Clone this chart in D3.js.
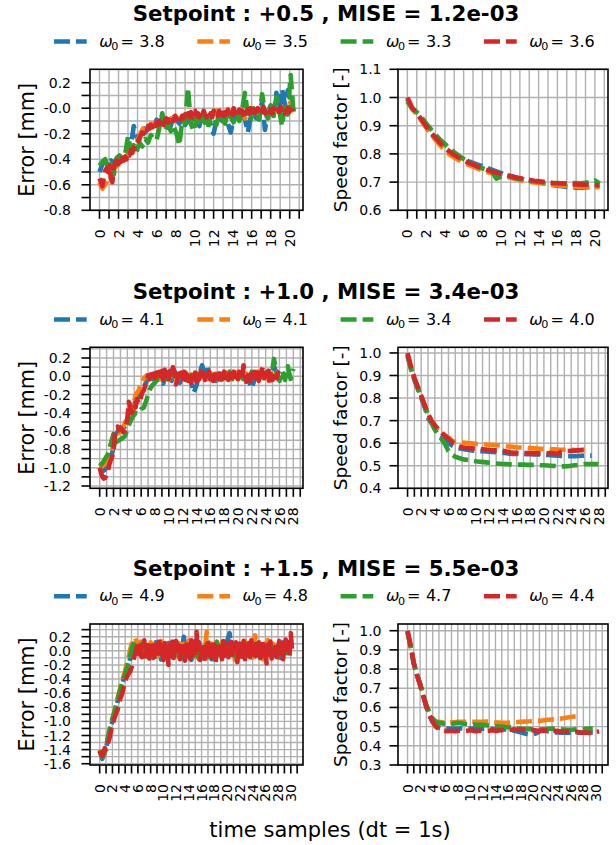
<!DOCTYPE html>
<html><head><meta charset="utf-8">
<script src="https://cdn.jsdelivr.net/npm/d3@7"></script>
<style>body{margin:0;background:#fff} text{font-family:"DejaVu Sans",sans-serif;fill:#000}</style>
</head><body><svg id="c" width="616" height="845"></svg>
<script>
const colors = ["#1f77b4","#ff7f0e","#2ca02c","#d62728"];
const titles = ["Setpoint : +0.5 , MISE = 1.2e-03","Setpoint : +1.0 , MISE = 3.4e-03","Setpoint : +1.5 , MISE = 5.5e-03"];
const omega1 = ["3.8","3.5","3.3","3.6"];
const omega2 = ["4.1","4.1","3.4","4.0"];
const omega3 = ["4.9","4.8","4.7","4.4"];
// sampling step of each error series (blue, orange, green, red)
const errDt1 = [0.3, 0.3, 0.3, 0.15];
const errDt2 = [0.4, 0.4, 0.4, 0.2];
const errDt3 = [0.4, 0.4, 0.4, 0.2];
const spdDt = 0.5;
const xLabel = "time samples (dt = 1s)";
const errLabel = "Error [mm]";
const spdLabel = "Speed factor [-]";

// ---- Setpoint +0.5 ----
const err1Blue = [-0.50,-0.44,-0.42,-0.45,-0.41,-0.43,-0.40,-0.42,-0.44,-0.40,-0.36,-0.30,-0.14,-0.22,-0.25,-0.14,-0.19,-0.16,-0.13,-0.15,-0.09,-0.11,-0.08,-0.12,-0.10,-0.14,-0.04,-0.09,-0.12,-0.08,-0.13,-0.10,-0.07,-0.12,-0.09,-0.14,-0.06,-0.11,-0.08,-0.13,-0.20,-0.09,-0.05,-0.10,-0.06,-0.12,-0.19,-0.08,-0.03,-0.10,-0.05,-0.09,-0.19,-0.07,-0.02,-0.08,-0.04,0.05,-0.17,-0.03,0.02,-0.06,0.12,-0.02,0.15,0.03,0.14,0.06,-0.02];
const err1Orange = [-0.58,-0.63,-0.60,-0.55,-0.52,-0.48,-0.45,-0.43,-0.40,-0.38,-0.36,-0.33,-0.30,-0.26,-0.22,-0.17,-0.14,-0.15,-0.12,-0.13,-0.11,-0.10,-0.12,-0.09,-0.10,-0.08,-0.09,-0.07,-0.10,-0.06,-0.08,-0.05,-0.07,-0.04,-0.06,-0.05,-0.08,-0.03,-0.05,-0.06,-0.04,-0.02,-0.05,-0.03,-0.06,-0.02,-0.04,-0.03,-0.01,-0.05,-0.02,-0.08,-0.03,-0.01,-0.04,-0.02,-0.05,0.00,-0.03,-0.02,-0.04,0.01,-0.02,-0.03,0.00,-0.02,0.01,0.05,-0.03];
const err1Green = [-0.45,-0.42,-0.40,-0.47,-0.44,-0.52,-0.39,-0.37,-0.40,-0.36,-0.22,-0.33,-0.29,-0.34,-0.27,-0.30,-0.24,-0.27,-0.21,-0.24,-0.25,-0.15,-0.04,-0.17,-0.12,-0.18,-0.14,-0.20,-0.29,-0.09,-0.12,0.16,-0.12,-0.18,-0.08,-0.14,-0.06,-0.11,-0.16,-0.04,-0.09,-0.13,-0.03,-0.08,-0.12,-0.02,-0.07,-0.11,-0.04,-0.10,-0.01,0.12,-0.06,-0.10,0.00,-0.05,-0.09,0.11,-0.03,-0.08,0.02,-0.06,0.09,-0.02,-0.14,0.03,-0.05,0.26,-0.03];
const err1Red = [-0.55,-0.58,-0.61,-0.54,-0.49,-0.47,-0.50,-0.45,-0.55,-0.58,-0.47,-0.43,-0.41,-0.44,-0.40,-0.42,-0.39,-0.41,-0.38,-0.40,-0.36,-0.37,-0.33,-0.35,-0.31,-0.32,-0.28,-0.26,-0.23,-0.21,-0.19,-0.20,-0.16,-0.18,-0.14,-0.16,-0.13,-0.15,-0.12,-0.14,-0.11,-0.13,-0.10,-0.12,-0.09,-0.13,-0.10,-0.08,-0.11,-0.09,-0.10,-0.07,-0.10,-0.06,-0.09,-0.07,-0.05,-0.09,-0.06,-0.08,-0.05,-0.08,-0.04,-0.07,-0.03,-0.07,-0.05,-0.02,-0.06,-0.04,-0.07,-0.03,-0.06,-0.02,-0.05,-0.07,-0.03,-0.06,-0.04,-0.07,-0.02,-0.05,-0.03,-0.06,-0.02,-0.05,-0.01,-0.06,-0.03,-0.05,-0.01,-0.04,-0.02,-0.05,0.00,-0.04,-0.02,-0.05,-0.01,-0.03,-0.02,-0.05,0.00,-0.03,-0.01,-0.04,0.00,-0.03,-0.05,-0.01,-0.03,0.00,-0.04,-0.01,-0.03,0.01,-0.04,-0.02,0.00,-0.03,-0.01,-0.04,0.00,-0.02,-0.04,-0.01,-0.03,0.01,-0.03,-0.01,-0.04,-0.02,0.00,-0.03,-0.01,0.02,-0.02];
const spd1Blue = [0.995,0.962,0.943,0.920,0.895,0.873,0.852,0.835,0.820,0.808,0.798,0.789,0.781,0.774,0.768,0.762,0.756,0.750,0.744,0.738,0.732,0.727,0.722,0.717,0.713,0.709,0.705,0.702,0.699,0.696,0.693,0.690,0.687,0.685,0.683,0.681,0.680,0.680,0.681,0.683,0.686,0.688];
const spd1Orange = [0.990,0.960,0.940,0.918,0.894,0.872,0.850,0.830,0.812,0.798,0.787,0.778,0.770,0.762,0.755,0.748,0.741,0.736,0.731,0.727,0.723,0.719,0.715,0.711,0.707,0.704,0.701,0.699,0.697,0.695,0.693,0.691,0.689,0.687,0.686,0.685,0.684,0.683,0.683,0.682,0.682,0.682];
const spd1Green = [0.985,0.962,0.948,0.930,0.908,0.888,0.868,0.850,0.835,0.820,0.806,0.793,0.782,0.772,0.764,0.756,0.749,0.744,0.738,0.712,0.720,0.724,0.719,0.714,0.711,0.708,0.705,0.703,0.701,0.699,0.698,0.697,0.697,0.696,0.696,0.697,0.697,0.696,0.698,0.700,0.706,0.695];
const spd1Red = [1.000,0.965,0.945,0.922,0.898,0.877,0.857,0.838,0.822,0.808,0.796,0.786,0.777,0.769,0.762,0.755,0.748,0.743,0.738,0.733,0.729,0.725,0.721,0.717,0.714,0.711,0.708,0.705,0.703,0.701,0.699,0.697,0.696,0.695,0.694,0.693,0.692,0.691,0.691,0.690,0.689,0.689];

// ---- Setpoint +1.0 ----
const err2Blue = [-1.00,-1.04,-1.02,-0.96,-0.90,-0.78,-0.63,-0.58,-0.60,-0.55,-0.48,-0.33,-0.36,-0.27,-0.22,-0.18,-0.12,-0.05,0.00,-0.03,0.02,-0.04,0.03,-0.08,0.05,0.02,-0.05,0.06,-0.02,-0.07,0.03,-0.04,0.01,-0.06,-0.18,-0.10,0.02,0.12,0.03,0.10,-0.02,0.04,-0.05,0.02,-0.03,0.04,-0.02,0.03,-0.04,0.02,-0.03,0.04,-0.02,0.02,-0.06,-0.13,-0.03,0.03,-0.02,0.04,-0.01,0.05,0.02,0.11,0.03,0.06,0.01,0.04];
const err2Orange = [-1.00,-0.98,-0.96,-0.92,-0.86,-0.74,-0.60,-0.62,-0.57,-0.52,-0.45,-0.30,-0.34,-0.20,-0.16,-0.07,-0.02,0.01,-0.03,0.02,-0.01,0.04,-0.03,0.05,0.01,-0.04,0.06,0.00,-0.05,0.03,-0.02,0.04,-0.03,0.02,-0.05,0.03,-0.01,0.05,0.00,-0.03,0.04,-0.02,0.03,-0.04,0.02,-0.01,0.04,-0.03,0.03,-0.02,0.05,0.00,-0.04,0.03,-0.01,0.04,-0.03,0.05,0.01,-0.02,0.06,-0.04,0.03,-0.01,0.04,0.02];
const err2Green = [-0.98,-0.95,-0.90,-0.85,-0.74,-0.63,-0.72,-0.70,-0.68,-0.66,-0.58,-0.50,-0.44,-0.40,-0.41,-0.36,-0.34,-0.25,-0.15,-0.10,-0.07,-0.02,-0.05,0.02,-0.03,0.01,-0.04,0.03,-0.02,0.02,-0.03,0.04,-0.02,0.01,-0.04,0.03,-0.01,0.05,-0.02,0.02,-0.03,0.04,-0.01,0.03,-0.04,0.02,-0.02,0.05,-0.03,0.01,-0.02,0.04,-0.03,0.02,-0.01,0.05,-0.04,0.03,0.00,0.04,-0.02,0.06,-0.03,0.19,0.02,-0.05,0.06,-0.04,0.11,-0.03,0.08];
const err2Red = [-1.00,-1.06,-1.10,-1.12,-1.11,-1.08,-1.04,-0.96,-0.92,-0.88,-0.84,-0.62,-0.58,-0.55,-0.59,-0.56,-0.58,-0.61,-0.60,-0.54,-0.47,-0.28,-0.33,-0.40,-0.38,-0.30,-0.34,-0.25,-0.29,-0.30,-0.22,-0.17,-0.15,-0.10,-0.06,0.01,-0.03,0.02,-0.04,0.03,-0.02,0.04,-0.03,0.05,0.00,0.06,-0.04,0.07,0.01,0.05,-0.03,0.06,0.02,0.10,0.04,-0.09,-0.05,0.03,-0.02,0.04,-0.03,0.05,-0.04,0.02,-0.05,0.03,-0.07,0.01,-0.04,0.04,-0.06,0.02,-0.03,0.05,-0.02,0.04,-0.04,0.03,-0.01,0.05,-0.03,0.04,-0.05,0.02,-0.02,0.05,-0.03,0.03,-0.06,0.02,0.05,-0.02,0.04,-0.04,0.03,-0.05,0.02,0.05,-0.01,0.04,-0.03,0.05,0.02,-0.04,0.12,0.03,-0.06,-0.02,0.04,-0.05,0.03,-0.04,0.05,-0.02,0.04,-0.05,0.03,0.06,0.10,-0.02,0.04,-0.03,0.06,-0.08,0.02,-0.04,0.05,0.01,-0.02,0.04,0.03];
const spd2Blue = [0.990,0.930,0.880,0.840,0.800,0.760,0.712,0.690,0.670,0.650,0.632,0.615,0.600,0.590,0.582,0.578,0.575,0.572,0.570,0.568,0.566,0.565,0.564,0.563,0.562,0.561,0.560,0.559,0.558,0.555,0.553,0.552,0.552,0.552,0.552,0.551,0.551,0.550,0.550,0.550,0.550,0.548,0.547,0.546,0.545,0.543,0.542,0.542,0.542,0.542,0.543,0.544,0.545,0.545,0.545];
const spd2Orange = [0.995,0.935,0.888,0.848,0.808,0.768,0.728,0.700,0.680,0.662,0.648,0.636,0.625,0.612,0.605,0.604,0.603,0.602,0.600,0.599,0.597,0.596,0.595,0.594,0.593,0.593,0.592,0.590,0.588,0.586,0.585,0.584,0.582,0.581,0.580,0.579,0.578,0.577,0.576,0.575,0.574,0.574,0.573,0.573,0.572,0.571,0.571,0.571,0.571,0.570,0.570,0.571,0.572];
const spd2Green = [0.985,0.930,0.885,0.845,0.808,0.768,0.728,0.690,0.660,0.635,0.618,0.595,0.565,0.550,0.540,0.535,0.530,0.527,0.525,0.522,0.520,0.518,0.517,0.515,0.513,0.511,0.510,0.509,0.508,0.507,0.506,0.505,0.505,0.505,0.505,0.504,0.504,0.503,0.503,0.502,0.502,0.501,0.500,0.499,0.498,0.497,0.497,0.498,0.500,0.502,0.503,0.505,0.507,0.507,0.507,0.508,0.507];
const spd2Red = [1.000,0.940,0.890,0.850,0.810,0.770,0.730,0.700,0.680,0.660,0.645,0.632,0.620,0.606,0.595,0.587,0.582,0.580,0.578,0.577,0.575,0.574,0.573,0.572,0.570,0.569,0.568,0.567,0.566,0.563,0.560,0.558,0.557,0.556,0.556,0.556,0.556,0.555,0.555,0.555,0.555,0.555,0.556,0.555,0.552,0.562,0.565,0.565,0.566,0.567,0.568,0.569,0.570];

// ---- Setpoint +1.5 ----
const err3Blue = [-1.42,-1.53,-1.45,-1.30,-1.15,-1.00,-0.86,-0.72,-0.58,-0.45,-0.34,-0.24,-0.10,0.05,0.12,0.02,0.10,-0.08,0.14,-0.05,0.09,-0.10,0.12,0.00,-0.12,0.08,-0.04,0.11,-0.09,0.05,-0.06,0.10,-0.11,0.20,-0.03,0.07,-0.13,0.09,-0.02,0.12,-0.10,0.04,-0.07,0.11,-0.12,0.06,-0.03,0.10,-0.08,0.05,0.14,0.25,-0.06,0.09,-0.13,0.07,-0.04,0.12,-0.10,0.03,0.10,-0.08,0.13,-0.05,0.06,-0.12,0.09,-0.02,0.11,-0.07,0.04,-0.10,0.12,-0.03,0.08];
const err3Orange = [-1.40,-1.50,-1.43,-1.28,-1.12,-0.97,-0.83,-0.68,-0.54,-0.40,-0.28,-0.14,0.02,0.16,0.18,0.06,0.13,-0.06,0.11,-0.09,0.12,-0.04,0.09,-0.11,0.14,-0.02,0.08,-0.10,0.13,0.01,-0.08,0.11,-0.04,0.10,-0.12,0.15,-0.03,0.08,-0.09,0.12,0.03,-0.07,0.27,-0.05,0.10,-0.11,0.08,-0.02,0.12,-0.09,0.06,-0.04,0.11,-0.13,0.09,0.02,-0.08,0.14,-0.03,0.07,-0.10,0.22,-0.04,0.09,-0.12,0.06,0.15,-0.05,0.10,-0.08];
const err3Green = [-1.41,-1.50,-1.42,-1.27,-1.10,-0.96,-0.84,-0.70,-0.56,-0.43,-0.32,-0.20,-0.06,0.08,0.14,-0.02,0.09,-0.07,0.12,-0.04,0.07,-0.09,0.11,-0.03,0.06,-0.11,0.10,-0.05,0.08,-0.02,0.12,-0.08,0.05,-0.10,0.09,-0.04,0.11,-0.07,0.03,-0.12,0.08,-0.03,0.10,-0.09,0.06,-0.01,0.13,-0.06,0.04,-0.10,0.09,-0.02,0.12,-0.08,0.05,-0.11,0.10,-0.03,0.07,-0.09,0.11,-0.04,0.08,-0.10,0.06,0.13,-0.05,0.09,-0.07,0.04,-0.09,0.10,-0.03,0.12,-0.06];
const err3Red = [-1.42,-1.46,-1.49,-1.44,-1.38,-1.40,-1.33,-1.28,-1.22,-1.12,-1.05,-0.99,-0.93,-0.88,-0.84,-0.76,-0.68,-0.64,-0.58,-0.50,-0.43,-0.38,-0.35,-0.32,-0.29,-0.24,-0.17,-0.09,-0.04,0.05,0.10,-0.05,0.14,-0.09,0.06,0.15,-0.08,0.02,0.12,-0.11,0.07,-0.03,0.13,-0.12,0.04,0.10,-0.07,0.16,-0.02,0.08,-0.13,0.11,-0.04,0.05,-0.20,0.09,-0.06,0.13,-0.10,0.03,0.14,-0.07,0.08,-0.12,0.11,-0.03,0.06,-0.14,0.12,-0.05,0.09,-0.11,0.15,-0.06,0.04,-0.09,0.27,-0.02,0.10,-0.13,0.07,-0.08,0.12,-0.15,0.05,0.11,-0.06,0.13,-0.10,0.02,0.09,-0.17,0.06,0.12,-0.04,0.10,-0.12,0.14,-0.07,0.03,0.11,-0.09,0.05,0.13,-0.11,0.08,-0.03,0.12,-0.16,0.06,0.10,-0.08,0.04,0.14,-0.12,0.07,-0.05,0.11,-0.09,0.15,-0.06,0.08,-0.13,0.10,-0.02,0.12,-0.10,0.06,0.14,-0.08,0.03,-0.18,0.09,-0.04,0.13,-0.11,0.07,-0.06,0.12,-0.09,0.05,0.14,-0.07,0.10,-0.12,0.08,0.16,-0.05,0.11,-0.08,0.25,0.02,0.09];
const spd3Blue = [0.995,0.918,0.828,0.768,0.716,0.658,0.600,0.555,0.525,0.505,0.495,0.492,0.490,0.490,0.490,0.490,0.490,0.491,0.490,0.490,0.490,0.490,0.490,0.489,0.490,0.489,0.488,0.488,0.488,0.487,0.486,0.485,0.485,0.482,0.478,0.474,0.470,0.466,0.462,0.460,0.460,0.465,0.475,0.478,0.478,0.475,0.472,0.470,0.470,0.469,0.468,0.468,0.468,0.468,0.468,0.468,0.468,0.469,0.469,0.470];
const spd3Orange = [0.995,0.918,0.830,0.771,0.720,0.664,0.608,0.566,0.535,0.527,0.525,0.523,0.522,0.522,0.522,0.523,0.525,0.525,0.525,0.525,0.525,0.525,0.525,0.525,0.525,0.526,0.527,0.525,0.522,0.521,0.520,0.520,0.520,0.521,0.522,0.524,0.525,0.526,0.527,0.528,0.530,0.530,0.530,0.532,0.535,0.536,0.537,0.538,0.540,0.542,0.545,0.548,0.550,0.553,0.555,0.560];
const spd3Green = [0.990,0.915,0.828,0.772,0.725,0.668,0.612,0.572,0.542,0.526,0.520,0.517,0.515,0.514,0.515,0.517,0.520,0.518,0.515,0.514,0.513,0.512,0.510,0.510,0.510,0.507,0.505,0.503,0.502,0.501,0.500,0.498,0.497,0.496,0.495,0.492,0.490,0.489,0.488,0.487,0.486,0.485,0.485,0.486,0.487,0.489,0.490,0.489,0.488,0.486,0.485,0.484,0.484,0.485,0.486,0.487,0.488,0.489,0.490,0.490];
const spd3Red = [1.000,0.920,0.830,0.770,0.718,0.660,0.605,0.560,0.525,0.500,0.487,0.480,0.478,0.476,0.479,0.476,0.478,0.480,0.477,0.479,0.481,0.478,0.476,0.480,0.478,0.477,0.479,0.481,0.478,0.480,0.482,0.480,0.483,0.484,0.486,0.484,0.485,0.483,0.482,0.481,0.482,0.480,0.478,0.481,0.480,0.478,0.476,0.478,0.477,0.475,0.474,0.476,0.474,0.472,0.473,0.470,0.468,0.470,0.467,0.468,0.472,0.475];

// axis ranges & ticks
const xDomains = [[-1.0,21.4],[-1.4,29.4],[-1.52,31.92]];
const xTickMax = [21, 29, 31];
const errDomains = [[-0.8,0.305],[-1.225,0.317],[-1.618,0.38]];
const errTicks1 = [0.2,0.1,0.0,-0.1,-0.2,-0.3,-0.4,-0.5,-0.6,-0.7,-0.8];
const errTickLabels1 = ["0.2","","-0.0","","-0.2","","-0.4","","-0.6","","-0.8"];
const errTicks2 = [0.3,0.2,0.1,0.0,-0.1,-0.2,-0.3,-0.4,-0.5,-0.6,-0.7,-0.8,-0.9,-1.0,-1.1,-1.2];
const errTickLabels2 = ["","0.2","","0.0","","-0.2","","-0.4","","-0.6","","-0.8","","-1.0","","-1.2"];
const errTicks3 = [0.3,0.2,0.1,0.0,-0.1,-0.2,-0.3,-0.4,-0.5,-0.6,-0.7,-0.8,-0.9,-1.0,-1.1,-1.2,-1.3,-1.4,-1.5,-1.6];
const errTickLabels3 = ["","0.2","","0.0","","-0.2","","-0.4","","-0.6","","-0.8","","-1.0","","-1.2","","-1.4","","-1.6"];
const spdDomains = [[0.6,1.1],[0.4,1.025],[0.3,1.035]];
const spdTicks1 = [0.6,0.7,0.8,0.9,1.0,1.1];
const spdTickLabels1 = ["0.6","0.7","0.8","0.9","1.0","1.1"];
const spdTicks2 = [0.4,0.5,0.6,0.7,0.8,0.9,1.0];
const spdTickLabels2 = ["0.4","0.5","0.6","0.7","0.8","0.9","1.0"];
const spdTicks3 = [0.3,0.4,0.5,0.6,0.7,0.8,0.9,1.0];
const spdTickLabels3 = ["0.3","0.4","0.5","0.6","0.7","0.8","0.9","1.0"];

const rows = [
  {title:titles[0], om:omega1, dt:errDt1, err:[err1Blue,err1Orange,err1Green,err1Red], spd:[spd1Blue,spd1Orange,spd1Green,spd1Red],
   xd:xDomains[0], xm:xTickMax[0], ed:errDomains[0], et:errTicks1, el:errTickLabels1, sd:spdDomains[0], st:spdTicks1, sl:spdTickLabels1},
  {title:titles[1], om:omega2, dt:errDt2, err:[err2Blue,err2Orange,err2Green,err2Red], spd:[spd2Blue,spd2Orange,spd2Green,spd2Red],
   xd:xDomains[1], xm:xTickMax[1], ed:errDomains[1], et:errTicks2, el:errTickLabels2, sd:spdDomains[1], st:spdTicks2, sl:spdTickLabels2},
  {title:titles[2], om:omega3, dt:errDt3, err:[err3Blue,err3Orange,err3Green,err3Red], spd:[spd3Blue,spd3Orange,spd3Green,spd3Red],
   xd:xDomains[2], xm:xTickMax[2], ed:errDomains[2], et:errTicks3, el:errTickLabels3, sd:spdDomains[2], st:spdTicks3, sl:spdTickLabels3}
];

// layout
const svg = d3.select("#c");
const rowTop = [69.3, 347.3, 624];
const panelH = 141;
const colX = [[90,303],[398,608]];
const tickFont = 14;
const lw = 4.6;
const dash = "16,6";
let clipId = 0;

function panel(g, x0, x1, y0, y1, xd, xm, yd, yt, yl, series, dts, labelPad, ylab, ylabFont, ylabX) {
  const x = d3.scaleLinear().domain(xd).range([x0, x1]);
  const y = d3.scaleLinear().domain(yd).range([y1, y0]);
  const xt = d3.range(0, xm + 1);
  // grid
  g.append("g").selectAll("line").data(xt).join("line")
    .attr("x1", d => x(d)).attr("x2", d => x(d)).attr("y1", y0).attr("y2", y1)
    .attr("stroke", "#b0b0b0").attr("stroke-width", 1.4);
  g.append("g").selectAll("line").data(yt).join("line")
    .attr("x1", x0).attr("x2", x1).attr("y1", d => y(d)).attr("y2", d => y(d))
    .attr("stroke", "#b0b0b0").attr("stroke-width", 1.4);
  // clip
  const id = "clip" + (clipId++);
  g.append("clipPath").attr("id", id).append("rect").attr("x", x0).attr("y", y0).attr("width", x1 - x0).attr("height", y1 - y0);
  const lg = g.append("g").attr("clip-path", `url(#${id})`);
  series.forEach((s, k) => {
    const dt = Array.isArray(dts) ? dts[k] : dts;
    const line = d3.line().x((d, i) => x(i * dt)).y(d => y(d));
    lg.append("path").attr("d", line(s)).attr("fill", "none").attr("stroke", colors[k])
      .attr("stroke-width", lw).attr("stroke-dasharray", dash).attr("stroke-linejoin", "round").attr("stroke-linecap", "butt");
  });
  // ticks
  g.append("g").selectAll("line").data(xt).join("line")
    .attr("x1", d => x(d)).attr("x2", d => x(d)).attr("y1", y1).attr("y2", y1 + 8.5)
    .attr("stroke", "#000").attr("stroke-width", 1.6);
  g.append("g").selectAll("line").data(yt).join("line")
    .attr("x1", x0 - 8.5).attr("x2", x0).attr("y1", d => y(d)).attr("y2", d => y(d))
    .attr("stroke", "#000").attr("stroke-width", 1.6);
  // tick labels
  g.append("g").selectAll("text").data(xt.filter(d => d % 2 === 0)).join("text")
    .attr("transform", d => `translate(${x(d)},${y1 + 19}) rotate(-90)`)
    .attr("text-anchor", "end").attr("dy", "0.36em").attr("font-size", tickFont).text(d => String(d));
  g.append("g").selectAll("text").data(yt.map((v, i) => [v, yl[i]]).filter(d => d[1] !== "")).join("text")
    .attr("x", x0 - labelPad).attr("y", d => y(d[0])).attr("dy", "0.36em")
    .attr("text-anchor", "end").attr("font-size", tickFont).text(d => d[1]);
  // spines
  g.append("rect").attr("x", x0).attr("y", y0).attr("width", x1 - x0).attr("height", y1 - y0)
    .attr("fill", "none").attr("stroke", "#000").attr("stroke-width", 1.6);
  // y label
  g.append("text").attr("transform", `translate(${ylabX},${(y0 + y1) / 2}) rotate(-90)`)
    .attr("text-anchor", "middle").attr("font-size", ylabFont).text(ylab);
}

rows.forEach((r, ri) => {
  const top = rowTop[ri], bot = top + panelH;
  const g = svg.append("g");
  g.append("text").attr("x", 326).attr("y", top - 48).attr("text-anchor", "middle")
    .attr("font-size", 21.3).attr("font-weight", "bold").text(r.title);
  const ly = top - 27.8;
  const lx = [54, 197.3, 340.6, 484];
  r.om.forEach((o, k) => {
    g.append("line").attr("x1", lx[k]).attr("x2", lx[k] + 32.7).attr("y1", ly).attr("y2", ly)
      .attr("stroke", colors[k]).attr("stroke-width", lw).attr("stroke-dasharray", dash);
    const t = g.append("text").attr("font-size", 16).attr("y", ly + 5.2);
    const tx = lx[k] + 45.3;
    t.append("tspan").attr("x", tx).attr("font-style", "italic").text("ω");
    t.append("tspan").attr("x", tx + 12).attr("dy", 3.5).attr("font-size", 11.2).text("0");
    t.append("tspan").attr("x", tx + 21.2).attr("dy", -3.5).text("=");
    t.append("tspan").attr("x", tx + 40).text(o);
  });
  panel(g, colX[0][0], colX[0][1], top, bot, r.xd, r.xm, r.ed, r.et, r.el, r.err, r.dt, 19, errLabel, 20.8, 33.5);
  panel(g, colX[1][0], colX[1][1], top, bot, r.xd, r.xm, r.sd, r.st, r.sl, r.spd, spdDt, 16.5, spdLabel, 18.5, 346.5);
});

svg.append("text").attr("x", 330).attr("y", 836.7).attr("text-anchor", "middle").attr("font-size", 21).text(xLabel);
</script>
</body></html>
